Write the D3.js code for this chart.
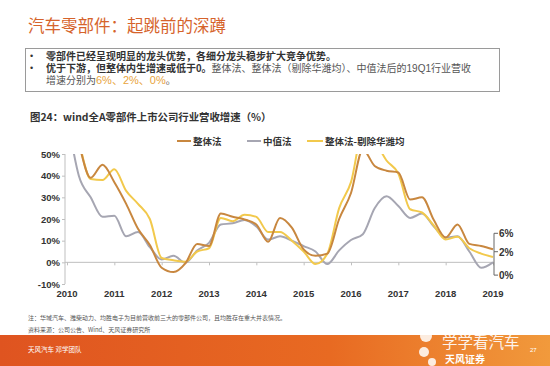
<!DOCTYPE html>
<meta charset="utf-8">
<style>
	body { margin: 0; background: #fff; }
	svg { font-family: "Liberation Sans", "Noto Sans CJK SC", sans-serif; }
	.cjk { font-family: "Noto Sans CJK SC", sans-serif; }
	.tight { font-family: "Liberation Sans", "Noto Sans CJK SC", sans-serif; }
	.axis text { font: bold 9.5px "Liberation Sans", sans-serif; fill: #333; }
	.axis path, .axis line { stroke: #bfbfbf; }
	.line { fill: none; stroke-width: 2; }
</style>
<script src="https://d3js.org/d3.v7.min.js"></script>
<svg width="550" height="366" class="slide"></svg>
<script>
	// quarterly points, 2010Q1 .. 2019Q1
	var quarters = d3.range(37).map(function(i) { return 2010 + i / 4; });

	var wholeMethod = [80, 55, 39, 45, 37, 27, 15.5, 8, -2.5, -4.5, -0.5, 8.5, 7.5, 22.5, 21, 19.8, 17.5, 9.5, 20.5, 16, 6, 3, 4, 20, 32, 52, 44.5, 42.3, 41.5, 29, 30, 19.5, 11.5, 17.5, 8.5, 7.5, 6];
	var medianMethod = [68, 40, 30, 21, 21.5, 12, 14, 7, 1.3, 3, -0.2, 5.5, 9, 17.5, 18, 19.5, 16.5, 10.5, 12, 10, 7.5, 5, -0.8, 5.5, 10.3, 13, 25, 30.5, 26, 20.5, 22.5, 16.5, 11.5, 12, 5, -2.5, 0];
	var exclMethod = [80, 56, 38.5, 38, 43, 33, 27, 20, 2, 1, 0.3, 5, 6.5, 20.5, 19, 22, 21, 14, 14, 10, 5, -0.8, 4, 25, 37, 60, 56, 47, 41, 24.5, 23, 17, 10.5, 11.8, 6.5, 4, 2.5];

	var seriesNames = ["整体法", "中值法", "整体法-剔除华潍均"];
	var seriesColors = ["#c8873f", "#a6a6b2", "#f2c94c"];
	var yTicks = [-10, 0, 10, 20, 30, 40, 50];
	var years = d3.range(2010, 2020);
	var endLabels = ["6%", "2%", "0%"];

	var svg = d3.select(".slide");

	// writes pieces of one line side by side, each as its own text
	function runs(x0, y0, parts) {
		var cx = x0;
		parts.forEach(function(p) {
			var t = svg.append("text").attr("class", "tight")
				.attr("x", cx).attr("y", y0)
				.attr("font-size", p.size || 10)
				.attr("font-weight", p.bold ? "bold" : "normal")
				.attr("fill", p.color)
				.text(p.text);
			cx += t.node().getComputedTextLength();
		});
	}

	// header
	svg.append("text").attr("class", "cjk")
		.attr("x", 28).attr("y", 32)
		.attr("font-size", 16.5).attr("fill", "#d6632b")
		.text("汽车零部件：起跳前的深蹲");

	svg.append("rect")
		.attr("x", 25.5).attr("y", 48.5).attr("width", 474).attr("height", 43)
		.attr("fill", "none").attr("stroke", "#9a9a9a");

	svg.selectAll(".bullet").data([59, 71]).enter().append("text")
		.attr("class", "bullet")
		.attr("x", 30).attr("y", function(d) { return d; })
		.attr("font-size", 9).attr("fill", "#333")
		.text("•");
	runs(46, 60, [{text: "零部件已经呈现明显的龙头优势，各细分龙头稳步扩大竞争优势。", color: "#333", bold: true}]);
	runs(46, 72, [
		{text: "优于下游，但整体内生增速或低于0。", color: "#333", bold: true},
		{text: "整体法、整体法（剔除华潍均）、中值法后的19Q1行业营收", color: "#555"}
	]);
	runs(46, 84, [
		{text: "增速分别为", color: "#555"},
		{text: "6%、2%、0%", color: "#e8a43c", size: 11},
		{text: "。", color: "#555"}
	]);

	svg.append("text").attr("class", "cjk")
		.attr("x", 30).attr("y", 121)
		.attr("font-size", 10.4).attr("font-weight", "bold").attr("fill", "#333")
		.text("图24：wind全A零部件上市公司行业营收增速（%）");

	// chart
	var x = d3.scaleLinear().domain([2010, 2019]).range([67, 493]);
	var y = d3.scaleLinear().domain([-10, 50]).range([284, 154]);

	svg.append("g")
		.attr("class", "axis")
		.attr("transform", "translate(" + (x(2010) - 2) + ",0)")
		.call(d3.axisLeft(y).tickValues(yTicks).tickSize(3).tickPadding(2)
			.tickFormat(function(d) { return d + "%"; }))
		.call(function(g) { g.select(".domain").attr("d", "M0," + y(50) + "V" + y(-10)); });

	svg.append("g")
		.attr("class", "axis")
		.attr("transform", "translate(0," + y(0) + ")")
		.call(d3.axisBottom(x).tickValues(years).tickSize(3).tickFormat(""))
		.call(function(g) { g.select(".domain").attr("d", "M" + (x(2010) - 2) + ",0H" + (x(2019) + 1)); });

	svg.append("g").attr("class", "axis")
		.selectAll("text").data(years).enter().append("text")
		.attr("x", function(d) { return x(d); })
		.attr("y", y(-10) + 13)
		.attr("text-anchor", "middle")
		.text(function(d) { return d; });

	svg.append("clipPath").attr("id", "plot")
		.append("rect")
		.attr("x", x(2010) - 2).attr("y", y(50))
		.attr("width", x(2019) - x(2010) + 4).attr("height", y(-10) - y(50));

	var line = d3.line()
		.x(function(d, i) { return x(quarters[i]); })
		.y(function(d) { return y(d); })
		.curve(d3.curveMonotoneX);

	var lines = [wholeMethod, medianMethod, exclMethod];
	var drawOrder = [1, 2, 0];
	svg.append("g").attr("clip-path", "url(#plot)")
		.selectAll("path").data(drawOrder).enter().append("path")
		.attr("class", "line")
		.attr("stroke", function(i) { return seriesColors[i]; })
		.attr("stroke-width", function(i) { return i === 1 ? 1.7 : 2; })
		.attr("d", function(i) { return line(lines[i]); });

	// legend
	var legendX = [177, 247, 307];
	var legend = svg.append("g").selectAll("g").data(seriesNames).enter().append("g")
		.attr("transform", function(d, i) { return "translate(" + legendX[i] + ",141)"; });
	legend.append("line")
		.attr("x1", 0).attr("x2", function(d, i) { return i === 2 ? 16 : 14; })
		.attr("stroke", function(d, i) { return seriesColors[i]; })
		.attr("stroke-width", 2);
	legend.append("text").attr("class", "cjk")
		.attr("x", function(d, i) { return i === 2 ? 18 : 16; }).attr("y", 3.5)
		.attr("font-size", 9.5).attr("font-weight", "bold").attr("fill", "#333")
		.text(function(d) { return d; });

	// end bracket annotation for 19Q1
	var bx = x(2019) + 1;
	var bracketAt = [13.4, 4.9, -5.9];
	svg.append("path")
		.attr("fill", "none").attr("stroke", "#666").attr("stroke-width", 1)
		.attr("d", "M" + (bx + 4) + "," + y(bracketAt[0]) + "H" + bx + "V" + y(bracketAt[1]) + "H" + (bx + 4)
			+ "M" + bx + "," + y(bracketAt[1]) + "V" + y(bracketAt[2]) + "H" + (bx + 4));
	svg.append("g").selectAll("text").data(endLabels).enter().append("text")
		.attr("x", bx + 5)
		.attr("y", function(d, i) { return y(bracketAt[i]) + 4; })
		.attr("font-size", 10).attr("font-weight", "bold").attr("fill", "#333")
		.text(function(d) { return d; });

	// notes
	svg.append("text").attr("class", "cjk")
		.attr("x", 28).attr("y", 320).attr("font-size", 6).attr("fill", "#555")
		.text("注：华域汽车、潍柴动力、均胜电子为目前营收前三大的零部件公司，且均胜存在重大并表情况。");
	svg.append("text").attr("class", "cjk")
		.attr("x", 28).attr("y", 332).attr("font-size", 6).attr("fill", "#555")
		.text("资料来源：公司公告、Wind、天风证券研究所");

	// footer band
	var grad = svg.append("defs").append("linearGradient").attr("id", "band");
	grad.append("stop").attr("offset", "0%").attr("stop-color", "#df5420");
	grad.append("stop").attr("offset", "60%").attr("stop-color", "#e86a22");
	grad.append("stop").attr("offset", "100%").attr("stop-color", "#f19a3c");
	svg.append("rect").attr("x", 0).attr("y", 335).attr("width", 550).attr("height", 31).attr("fill", "url(#band)");
	svg.append("text").attr("class", "cjk")
		.attr("x", 28).attr("y", 352).attr("font-size", 6.5).attr("fill", "#fff")
		.text("天风汽车 邓学团队");

	svg.append("g").selectAll("circle").data([[426, 336, 6], [438, 330, 4], [424, 352, 5], [432, 362, 4]]).enter()
		.append("circle")
		.attr("cx", function(d) { return d[0]; }).attr("cy", function(d) { return d[1]; }).attr("r", function(d) { return d[2]; })
		.attr("fill", "#fff").attr("opacity", 0.85);
	svg.append("text").attr("class", "tight")
		.attr("x", 442).attr("y", 348).attr("font-size", 15.5).attr("fill", "#fff").attr("opacity", 0.9)
		.text("学学看汽车");
	svg.append("text").attr("class", "tight")
		.attr("x", 445).attr("y", 362.5).attr("font-size", 10).attr("font-weight", "bold").attr("fill", "#fff")
		.text("天风证券");
	svg.append("text")
		.attr("x", 530).attr("y", 352).attr("font-size", 6).attr("fill", "#fff")
		.text("27");
</script>
